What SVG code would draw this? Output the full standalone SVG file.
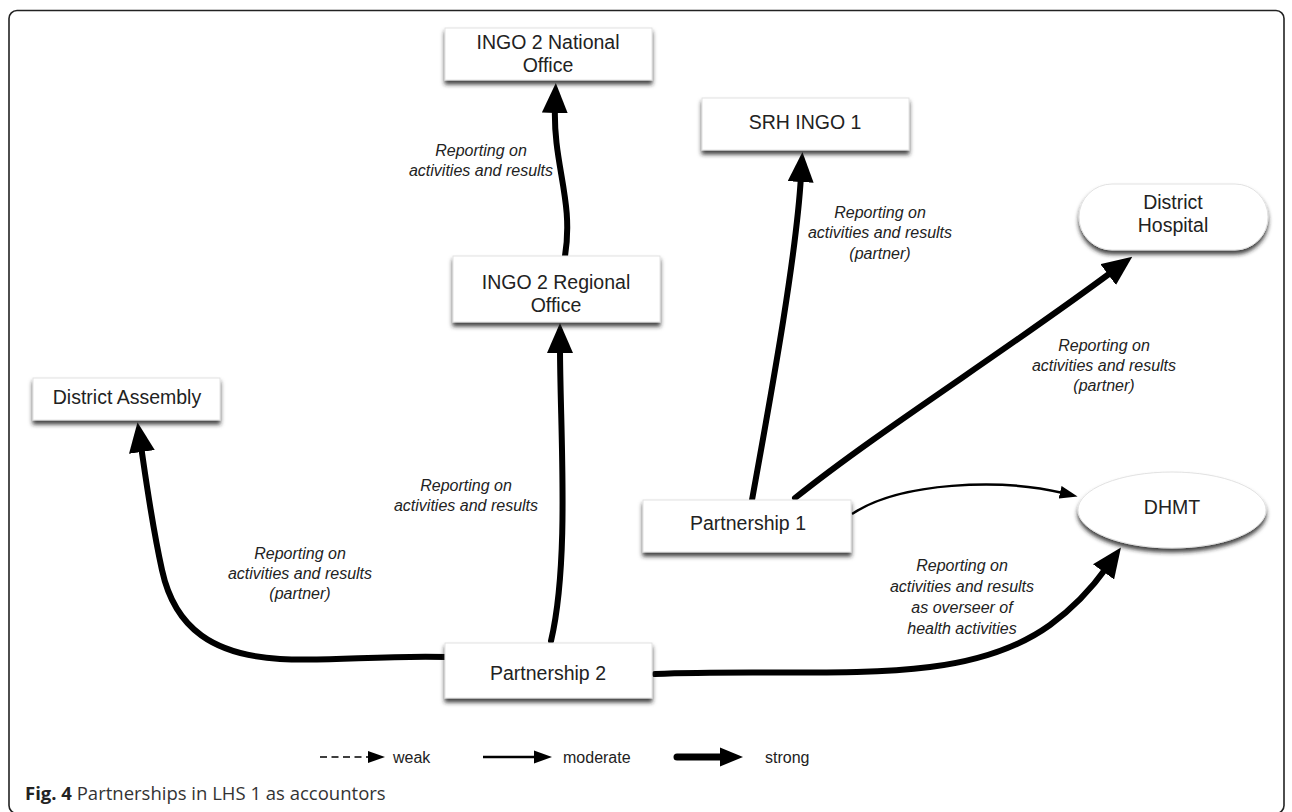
<svg xmlns="http://www.w3.org/2000/svg" width="1292" height="812" viewBox="0 0 1292 812">
<defs>
<style>
.node{fill:#fff;stroke:#e2e2e2;stroke-width:1;filter:url(#sh)}
.nt{font-family:"Liberation Sans",Arial,sans-serif;font-size:19.5px;fill:#222;text-anchor:middle}
.lb{font-family:"Liberation Sans",Arial,sans-serif;font-size:16px;font-style:italic;fill:#222;text-anchor:middle}
.lg{font-family:"Liberation Sans",Arial,sans-serif;font-size:16px;fill:#222}
.strong{fill:none;stroke:#000;stroke-width:6;stroke-linecap:round;marker-end:url(#ah)}
.mod{fill:none;stroke:#000;stroke-width:2.5;marker-end:url(#am)}
</style>
<filter id="sh" x="-10%" y="-20%" width="120%" height="160%">
<feGaussianBlur in="SourceAlpha" stdDeviation="2"/>
<feOffset dx="0" dy="4" result="o"/>
<feFlood flood-color="#222" flood-opacity="0.85"/>
<feComposite in2="o" operator="in"/>
<feMerge><feMergeNode/><feMergeNode in="SourceGraphic"/></feMerge>
</filter>
<marker id="ah" markerUnits="userSpaceOnUse" viewBox="0 0 30 26" markerWidth="30" markerHeight="26" refX="6" refY="13" orient="auto"><path d="M0,0 L30,13 L0,26 z" fill="#000"/></marker>
<marker id="am" markerUnits="userSpaceOnUse" viewBox="0 0 18 13" markerWidth="18" markerHeight="13" refX="3" refY="6.5" orient="auto"><path d="M0,0 L18,6.5 L0,13 z" fill="#000"/></marker>
</defs>
<rect width="1292" height="812" fill="#fff"/>
<rect x="9" y="10.5" width="1275" height="803" rx="8" fill="none" stroke="#222" stroke-width="1.6"/>

<g id="connectors">
<path class="strong" d="M565,256 C574,200 553,165 555,107"/>
<path class="strong" d="M551,641 C570,560 560,430 560,347"/>
<path class="strong" d="M447,657 C380,655 330,662 280,659 C215,655 175,630 162,570 C152,525 146,480 141,446"/>
<path class="strong" d="M752,500 C770,400 796,260 801,176"/>
<path class="strong" d="M795,498 C880,430 1000,355 1113,271"/>
<path class="mod" d="M852,514 C900,482 1000,478 1063,493"/>
<path class="strong" d="M655,674 C820,667 960,690 1050,625 C1072,609 1092,588 1107,567"/>
</g>

<g id="labels">
<text class="lb" x="481" y="156">Reporting on</text>
<text class="lb" x="481" y="176">activities and results</text>
<text class="lb" x="880" y="218">Reporting on</text>
<text class="lb" x="880" y="238">activities and results</text>
<text class="lb" x="880" y="259">(partner)</text>
<text class="lb" x="1104" y="351">Reporting on</text>
<text class="lb" x="1104" y="371">activities and results</text>
<text class="lb" x="1104" y="391">(partner)</text>
<text class="lb" x="466" y="491">Reporting on</text>
<text class="lb" x="466" y="511">activities and results</text>
<text class="lb" x="300" y="559">Reporting on</text>
<text class="lb" x="300" y="579">activities and results</text>
<text class="lb" x="300" y="599">(partner)</text>
<text class="lb" x="962" y="571">Reporting on</text>
<text class="lb" x="962" y="592">activities and results</text>
<text class="lb" x="962" y="613">as overseer of</text>
<text class="lb" x="962" y="634">health activities</text>
</g>

<g id="n-ingo2-national"><rect class="node" x="445" y="28" width="207" height="52"/><text class="nt" x="548" y="49">INGO 2 National</text><text class="nt" x="548" y="72">Office</text></g>
<g id="n-srh-ingo1"><rect class="node" x="702" y="98" width="207" height="52"/><text class="nt" x="805" y="129">SRH INGO 1</text></g>
<g id="n-district-hospital"><rect class="node" x="1079" y="184" width="189" height="66" rx="33"/><text class="nt" x="1173" y="209">District</text><text class="nt" x="1173" y="232">Hospital</text></g>
<g id="n-ingo2-regional"><rect class="node" x="453" y="256" width="207" height="66"/><text class="nt" x="556" y="289">INGO 2 Regional</text><text class="nt" x="556" y="312">Office</text></g>
<g id="n-district-assembly"><rect class="node" x="33" y="378" width="187" height="42"/><text class="nt" x="127" y="404">District Assembly</text></g>
<g id="n-partnership1"><rect class="node" x="643" y="500" width="208" height="52"/><text class="nt" x="748" y="530">Partnership 1</text></g>
<g id="n-dhmt"><ellipse class="node" cx="1172" cy="510" rx="94" ry="38"/><text class="nt" x="1172" y="514">DHMT</text></g>
<g id="n-partnership2"><rect class="node" x="445" y="643" width="207" height="55"/><text class="nt" x="548" y="680">Partnership 2</text></g>

<g id="legend">
<line x1="320" y1="757" x2="370" y2="757" stroke="#000" stroke-width="1.6" stroke-dasharray="7,4.5"/>
<path d="M368,751 L385,757 L368,763 z" fill="#000"/>
<text class="lg" x="393" y="763">weak</text>
<line x1="483" y1="757" x2="537" y2="757" stroke="#000" stroke-width="2.5"/>
<path d="M534,750.5 L552,757 L534,763.5 z" fill="#000"/>
<text class="lg" x="563" y="763">moderate</text>
<line x1="677" y1="757" x2="722" y2="757" stroke="#000" stroke-width="7" stroke-linecap="round"/>
<path d="M720,747.5 L743,757 L720,766.5 z" fill="#000"/>
<text class="lg" x="765" y="763">strong</text>
</g>

<text x="25" y="800" font-family="'Open Sans',sans-serif" font-size="18.5" fill="#333"><tspan font-weight="bold" fill="#222">Fig. 4</tspan> Partnerships in LHS 1 as accountors</text>
</svg>
